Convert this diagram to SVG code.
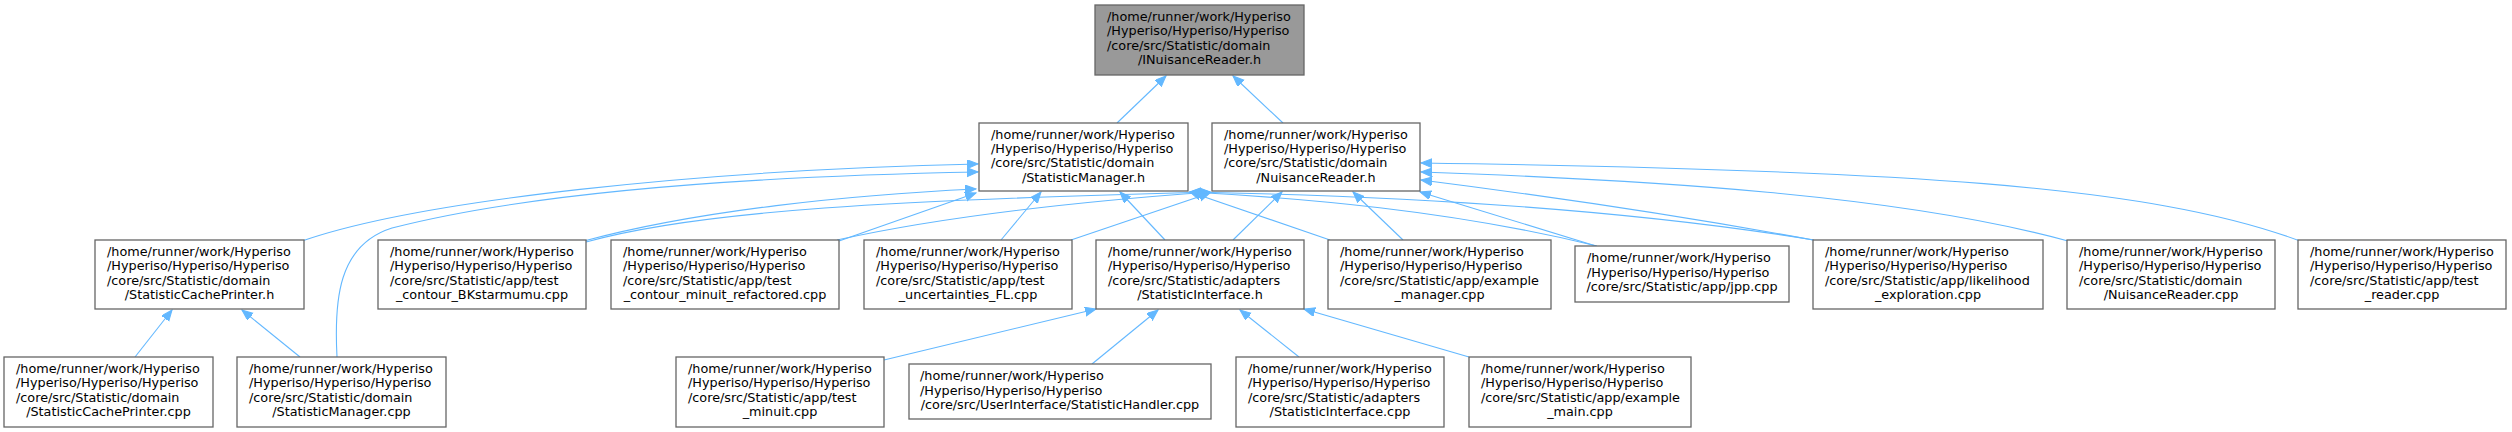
<svg xmlns="http://www.w3.org/2000/svg" width="2512" height="432" viewBox="0 0 2512 432">
<style>
.n rect{fill:#ffffff;stroke:#666666;stroke-width:1.3}
.n text{font-family:"DejaVu Sans",sans-serif;font-size:12.8px;fill:#000000}
.n .m{text-anchor:middle}
#e path{fill:none;stroke:#63b8ff;stroke-width:1.1;marker-end:url(#ah)}
</style>
<defs>
<marker id="ah" markerUnits="userSpaceOnUse" markerWidth="12" markerHeight="10" refX="11" refY="4.5" orient="auto"><path d="M0,0 L11,4.5 L0,9 z" fill="#63b8ff" stroke="#63b8ff" stroke-width="1"/></marker>
</defs>
<rect width="2512" height="432" fill="#ffffff"/>
<g id="e">
<path d="M1117,123 L1166,76"/>
<path d="M1283,123 L1233,76"/>
<path d="M302,241 C420,200 700,170 978,164"/>
<path d="M337,357 C334,300 338,245 392,228 C560,185 820,175 978,172"/>
<path d="M584,241 C700,210 850,195 976,189"/>
<path d="M586,242 C700,210 900,200 1210,192"/>
<path d="M839,241 L976,193"/>
<path d="M837,240 C950,215 1100,200 1210,192"/>
<path d="M1001,240 L1041,192"/>
<path d="M1071,240 L1210,193"/>
<path d="M1165,240 L1120,192"/>
<path d="M1233,240 L1282,192"/>
<path d="M1330,240 L1190,192"/>
<path d="M1403,240 L1353,192"/>
<path d="M1597,246 C1450,210 1300,198 1190,192"/>
<path d="M1596,246 L1420,192"/>
<path d="M1814,240 C1600,205 1350,195 1190,192"/>
<path d="M1813,240 C1650,210 1500,190 1421,180"/>
<path d="M2068,241 C1900,195 1650,180 1421,172"/>
<path d="M2300,241 C2150,185 1900,170 1421,163"/>
<path d="M135,357 L172,310"/>
<path d="M300,357 L242,310"/>
<path d="M884,360 L1096,309"/>
<path d="M1092,364 L1158,310"/>
<path d="M1299,357 L1240,310"/>
<path d="M1469,357 L1304,309"/>
</g>
<g id="n_inuisance" class="n"><rect x="1095" y="5" width="209" height="70" style="fill:#999999"/><text x="1107" y="20.7">/home/runner/work/Hyperiso</text><text x="1107" y="35.2">/Hyperiso/Hyperiso/Hyperiso</text><text x="1107" y="49.6">/core/src/Statistic/domain</text><text class="m" x="1199.5" y="64.1">/INuisanceReader.h</text></g>
<g id="n_statmgr_h" class="n"><rect x="979" y="123" width="209" height="68"/><text x="991" y="138.5">/home/runner/work/Hyperiso</text><text x="991" y="153">/Hyperiso/Hyperiso/Hyperiso</text><text x="991" y="167.4">/core/src/Statistic/domain</text><text class="m" x="1083.5" y="181.9">/StatisticManager.h</text></g>
<g id="n_nuis_h" class="n"><rect x="1212" y="123" width="208" height="68"/><text x="1224" y="138.5">/home/runner/work/Hyperiso</text><text x="1224" y="153">/Hyperiso/Hyperiso/Hyperiso</text><text x="1224" y="167.4">/core/src/Statistic/domain</text><text class="m" x="1316" y="181.9">/NuisanceReader.h</text></g>
<g id="n_cache_h" class="n"><rect x="95" y="240" width="209" height="69"/><text x="107" y="255.7">/home/runner/work/Hyperiso</text><text x="107" y="270.2">/Hyperiso/Hyperiso/Hyperiso</text><text x="107" y="284.6">/core/src/Statistic/domain</text><text class="m" x="199.5" y="299.1">/StatisticCachePrinter.h</text></g>
<g id="n_bk" class="n"><rect x="378" y="240" width="208" height="69"/><text x="390" y="255.7">/home/runner/work/Hyperiso</text><text x="390" y="270.2">/Hyperiso/Hyperiso/Hyperiso</text><text x="390" y="284.6">/core/src/Statistic/app/test</text><text class="m" x="482" y="299.1">_contour_BKstarmumu.cpp</text></g>
<g id="n_minref" class="n"><rect x="611" y="240" width="228" height="69"/><text x="623" y="255.7">/home/runner/work/Hyperiso</text><text x="623" y="270.2">/Hyperiso/Hyperiso/Hyperiso</text><text x="623" y="284.6">/core/src/Statistic/app/test</text><text class="m" x="725" y="299.1">_contour_minuit_refactored.cpp</text></g>
<g id="n_unc" class="n"><rect x="864" y="240" width="208" height="69"/><text x="876" y="255.7">/home/runner/work/Hyperiso</text><text x="876" y="270.2">/Hyperiso/Hyperiso/Hyperiso</text><text x="876" y="284.6">/core/src/Statistic/app/test</text><text class="m" x="968" y="299.1">_uncertainties_FL.cpp</text></g>
<g id="n_si_h" class="n"><rect x="1096" y="240" width="208" height="69"/><text x="1108" y="255.7">/home/runner/work/Hyperiso</text><text x="1108" y="270.2">/Hyperiso/Hyperiso/Hyperiso</text><text x="1108" y="284.6">/core/src/Statistic/adapters</text><text class="m" x="1200" y="299.1">/StatisticInterface.h</text></g>
<g id="n_exmgr" class="n"><rect x="1328" y="240" width="223" height="69"/><text x="1340" y="255.7">/home/runner/work/Hyperiso</text><text x="1340" y="270.2">/Hyperiso/Hyperiso/Hyperiso</text><text x="1340" y="284.6">/core/src/Statistic/app/example</text><text class="m" x="1439.5" y="299.1">_manager.cpp</text></g>
<g id="n_jpp" class="n"><rect x="1575" y="246" width="214" height="56"/><text x="1587" y="262">/home/runner/work/Hyperiso</text><text x="1587" y="276.5">/Hyperiso/Hyperiso/Hyperiso</text><text class="m" x="1682" y="291">/core/src/Statistic/app/jpp.cpp</text></g>
<g id="n_lik" class="n"><rect x="1813" y="240" width="230" height="69"/><text x="1825" y="255.7">/home/runner/work/Hyperiso</text><text x="1825" y="270.2">/Hyperiso/Hyperiso/Hyperiso</text><text x="1825" y="284.6">/core/src/Statistic/app/likelihood</text><text class="m" x="1928" y="299.1">_exploration.cpp</text></g>
<g id="n_nuis_cpp" class="n"><rect x="2067" y="240" width="208" height="69"/><text x="2079" y="255.7">/home/runner/work/Hyperiso</text><text x="2079" y="270.2">/Hyperiso/Hyperiso/Hyperiso</text><text x="2079" y="284.6">/core/src/Statistic/domain</text><text class="m" x="2171" y="299.1">/NuisanceReader.cpp</text></g>
<g id="n_reader" class="n"><rect x="2298" y="240" width="208" height="69"/><text x="2310" y="255.7">/home/runner/work/Hyperiso</text><text x="2310" y="270.2">/Hyperiso/Hyperiso/Hyperiso</text><text x="2310" y="284.6">/core/src/Statistic/app/test</text><text class="m" x="2402" y="299.1">_reader.cpp</text></g>
<g id="n_cache_cpp" class="n"><rect x="4" y="357" width="209" height="70"/><text x="16" y="372.7">/home/runner/work/Hyperiso</text><text x="16" y="387.2">/Hyperiso/Hyperiso/Hyperiso</text><text x="16" y="401.6">/core/src/Statistic/domain</text><text class="m" x="108.5" y="416.1">/StatisticCachePrinter.cpp</text></g>
<g id="n_statmgr_cpp" class="n"><rect x="237" y="357" width="209" height="70"/><text x="249" y="372.7">/home/runner/work/Hyperiso</text><text x="249" y="387.2">/Hyperiso/Hyperiso/Hyperiso</text><text x="249" y="401.6">/core/src/Statistic/domain</text><text class="m" x="341.5" y="416.1">/StatisticManager.cpp</text></g>
<g id="n_minuit" class="n"><rect x="676" y="357" width="208" height="70"/><text x="688" y="372.7">/home/runner/work/Hyperiso</text><text x="688" y="387.2">/Hyperiso/Hyperiso/Hyperiso</text><text x="688" y="401.6">/core/src/Statistic/app/test</text><text class="m" x="780" y="416.1">_minuit.cpp</text></g>
<g id="n_handler" class="n"><rect x="909" y="364" width="302" height="55"/><text x="920" y="380">/home/runner/work/Hyperiso</text><text x="920" y="394.5">/Hyperiso/Hyperiso/Hyperiso</text><text class="m" x="1060" y="409">/core/src/UserInterface/StatisticHandler.cpp</text></g>
<g id="n_si_cpp" class="n"><rect x="1236" y="357" width="208" height="70"/><text x="1248" y="372.7">/home/runner/work/Hyperiso</text><text x="1248" y="387.2">/Hyperiso/Hyperiso/Hyperiso</text><text x="1248" y="401.6">/core/src/Statistic/adapters</text><text class="m" x="1340" y="416.1">/StatisticInterface.cpp</text></g>
<g id="n_exmain" class="n"><rect x="1469" y="357" width="222" height="70"/><text x="1481" y="372.7">/home/runner/work/Hyperiso</text><text x="1481" y="387.2">/Hyperiso/Hyperiso/Hyperiso</text><text x="1481" y="401.6">/core/src/Statistic/app/example</text><text class="m" x="1580" y="416.1">_main.cpp</text></g>
</svg>
